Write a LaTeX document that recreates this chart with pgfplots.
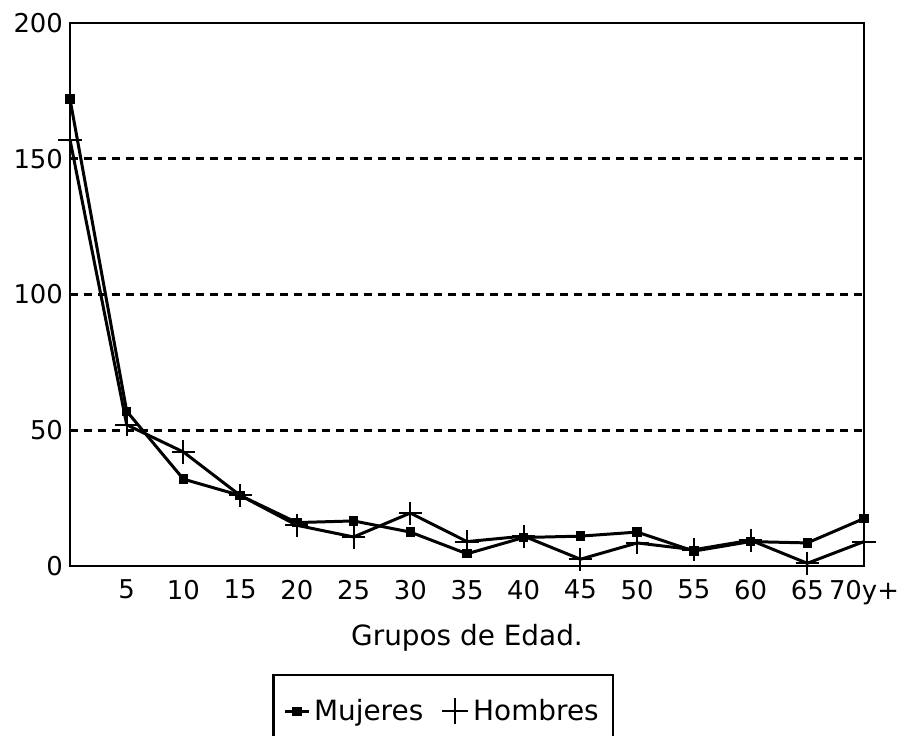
\documentclass[border=0pt]{standalone}
\usepackage{fontspec}
\setmainfont{DejaVu Sans}
\usepackage{pgfplots}
\pgfplotsset{compat=1.18}
\begin{document}
\begin{tikzpicture}[font=\fontsize{12}{14}\selectfont]
\begin{axis}[name=ax, scale only axis, width=397bp, height=271.5bp,
  xmin=0, xmax=70, ymin=0, ymax=200,
  xtick={5,10,...,70},
  xticklabels={5,10,15,20,25,30,35,40,45,50,55,60,65,70y+},
  ytick={0,50,100,150,200},
  major tick length=0pt,
  ymajorgrids,
  grid style={line width=1.4pt, dash pattern=on 4bp off 3bp, black},
  axis line style={line width=1.2pt},
  /pgf/number format/assume math mode=true,
  tick label style={font=\fontsize{13}{15}\selectfont},
  xticklabel style={yshift=-3.5bp},
  xlabel={Grupos de Edad.},
  xlabel style={font=\fontsize{14}{16}\selectfont, yshift=-3bp},
  clip=false,
  legend columns=2,
  legend style={at={(0.47,-0.199)}, anchor=north, draw=black, line width=1.2pt,
    inner xsep=5bp, inner ysep=10bp, font=\fontsize{14}{16}\selectfont,
    /tikz/every even column/.append style={column sep=7bp}},
]
\addplot[black, line width=1.5pt, mark=square*, mark size=1.6pt,
  legend image code/.code={\draw[line width=1.2pt] (0bp,0bp) -- (12bp,0bp);
    \fill (6bp,0bp) ++(-1.6pt,-1.6pt) rectangle ++(3.2pt,3.2pt);}]
  coordinates {(0,172) (5,57) (10,32) (15,26) (20,16) (25,16.6) (30,12.5) (35,4.5)
    (40,10.5) (45,11) (50,12.5) (55,5.5) (60,9) (65,8.5) (70,17.5)};
\addlegendentry{Mujeres}
\addplot[black, line width=1.5pt, mark=+, mark size=5.8pt, mark options={line width=1pt},
  legend image code/.code={\draw[line width=1pt] (0bp,0bp) -- (13bp,0bp) (6.5bp,-6.5bp) -- (6.5bp,6.5bp);}]
  coordinates {(0,157) (5,52) (10,42) (15,26) (20,15) (25,10.7) (30,19.5) (35,9)
    (40,11) (45,2.5) (50,8.5) (55,6) (60,9.5) (65,1) (70,9)};
\addlegendentry{Hombres}
\end{axis}
\pgfresetboundingbox
\path ([shift={(-35bp,-84.5bp)}]ax.south west) rectangle ([shift={(17bp,11.5bp)}]ax.north east);
\end{tikzpicture}
\end{document}
